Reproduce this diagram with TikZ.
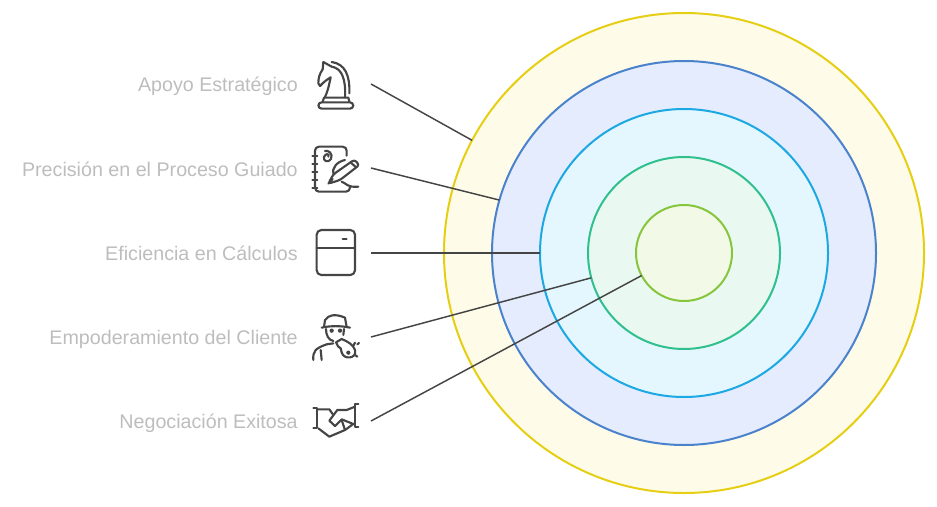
\documentclass[tikz,border=0pt]{standalone}
\usepackage{fontspec}
\setmainfont{Liberation Sans}
\definecolor{ylF}{HTML}{FEFCE8}\definecolor{ylS}{HTML}{E5CE14}
\definecolor{blF}{HTML}{E4ECFD}\definecolor{blS}{HTML}{4A82CC}
\definecolor{cyF}{HTML}{E4F7FE}\definecolor{cyS}{HTML}{1CA8E2}
\definecolor{grF}{HTML}{E9F9F1}\definecolor{grS}{HTML}{30C08E}
\definecolor{lmF}{HTML}{F2F9E6}\definecolor{lmS}{HTML}{86C53C}
\definecolor{lab}{HTML}{BDBDBD}\definecolor{ink}{HTML}{454545}
\tikzset{
  ring/.style={circle,draw=#1S,fill=#1F,line width=1.5pt,inner sep=0pt,outer sep=0pt},
  lbl/.style={anchor=base east,text=lab,font=\fontsize{14.76}{16}\selectfont,inner sep=0pt},
  conn/.style={draw=ink,line width=1.1pt},
  ico/.style={draw=ink,line width=1.6pt,line cap=round,line join=round},
}
\begin{document}
\begin{tikzpicture}[x=0.75pt,y=-0.75pt]
\useasboundingbox (0,0) rectangle (937,506);
\node[ring=yl,minimum size=360pt] (c1) at (684,253) {};
\node[ring=bl,minimum size=288pt] (c2) at (684,253) {};
\node[ring=cy,minimum size=216pt] (c3) at (684,253) {};
\node[ring=gr,minimum size=144pt] (c4) at (684,253) {};
\node[ring=lm,minimum size=72pt] (c5) at (684,253) {};
\node[lbl] (t1) at (298,92) {Apoyo Estratégico};
\node[lbl] (t2) at (298,176) {Precisión en el Proceso Guiado};
\node[lbl] (t3) at (298,260) {Eficiencia en Cálculos};
\node[lbl] (t4) at (298,344) {Empoderamiento del Cliente};
\node[lbl] (t5) at (298,428) {Negociación Exitosa};
\coordinate (s1) at (371,84);
\coordinate (s2) at (371,168);
\coordinate (s3) at (371,253);
\coordinate (s4) at (371,337);
\coordinate (s5) at (371,421);
\draw[conn] (s1) -- (c1.152);
\draw[conn] (s2) -- (c2.164.9);
\draw[conn] (s3) -- (c3.180);
\draw[conn] (s4) -- (c4.195.2);
\draw[conn] (s5) -- (c5.208.1);
% knight
\begin{scope}[shift={(300,50)},x=0.25pt,y=-0.25pt]
\draw[ico,rounded corners=2.5pt] (55,157) -- (160,157) -- (160,176) -- (55,176) -- cycle;
\draw[ico] (68,155) -- (72,143) -- (145,143) -- (148,155);
\draw[ico] (75,141) .. controls (85,120) and (88,100) .. (92,82) .. controls (82,88) and (72,95) .. (60,108) -- (55,100) .. controls (55,85) and (58,72) .. (68,58) -- (70,36) -- (95,50) .. controls (125,55) and (138,85) .. (135,143);
\draw[ico] (95,36) .. controls (135,42) and (150,75) .. (148,130);
\end{scope}
% notebook
\begin{scope}[shift={(300,135)},x=0.25pt,y=-0.25pt]
\draw[ico,rounded corners=3pt] (140,62) -- (140,35) -- (45,35) -- (45,170) -- (150,170) -- (150,155);
\foreach \yy in {62,88,112,135,158} \draw[ico] (37,\yy) -- (52,\yy);
\draw[ico] (85,65) .. controls (90,55) and (75,55) .. (72,66) .. controls (68,78) and (85,85) .. (93,72) .. controls (100,55) and (85,45) .. (75,48);
\draw[ico,rounded corners=2pt] (85,146) -- (100,118) -- (163,74) -- (178,90) -- (120,135) -- cycle;
\draw[ico] (152,82) -- (168,97);
\draw[ico] (100,118) .. controls (95,100) and (110,80) .. (135,75);
\draw[ico] (85,146) -- (98,132);
\draw[ico] (125,140) .. controls (140,145) and (140,158) .. (175,155);
\end{scope}
% fridge
\begin{scope}[shift={(300,220)},x=0.25pt,y=-0.25pt]
\draw[ico,rounded corners=3.5pt] (50,30) rectangle (165,165);
\draw[ico] (50,83) -- (165,83);
\draw[ico] (128,57) -- (140,57);
\end{scope}
% whistle person
\begin{scope}[shift={(300,305)},x=0.25pt,y=-0.25pt]
\draw[ico] (72,66) -- (75,45) .. controls (85,30) and (105,25) .. (135,38) -- (140,66);
\draw[ico] (65,68) .. controls (90,62) and (125,62) .. (150,68);
\draw[ico] (78,72) .. controls (78,90) and (85,105) .. (100,108);
\draw[ico] (132,72) -- (130,90);
\fill[ink] (95,77) circle (1.6pt) (120,77) circle (1.6pt);
\draw[ico] (40,165) .. controls (38,140) and (45,130) .. (80,118) -- (100,115);
\draw[ico] (65,165) -- (62,135);
\draw[ico] (108,112) -- (125,102) .. controls (145,110) and (160,120) .. (165,135) .. controls (172,162) and (130,165) .. (125,142) -- (122,130) -- (114,124) -- cycle;
\fill[ink] (145,143) circle (1.6pt);
\draw[ico] (165,150) -- (172,155);
\draw[ico] (160,122) -- (165,113);
\draw[ico] (172,118) -- (177,114);
\end{scope}
% handshake
\begin{scope}[shift={(300,390)},x=0.25pt,y=-0.25pt]
\draw[ico] (40,53) -- (52,53) -- (52,115) -- (40,115);
\draw[ico] (175,43) -- (165,43) -- (165,110) -- (175,110);
\draw[ico] (52,58) -- (88,58) -- (100,75);
\draw[ico] (165,50) -- (140,60) -- (112,60) -- (88,92) -- (105,108) -- (125,88) -- (160,102) -- (135,120) -- (88,140) -- (55,115);
\draw[ico] (125,90) -- (135,120);
\end{scope}
\end{tikzpicture}
\end{document}
